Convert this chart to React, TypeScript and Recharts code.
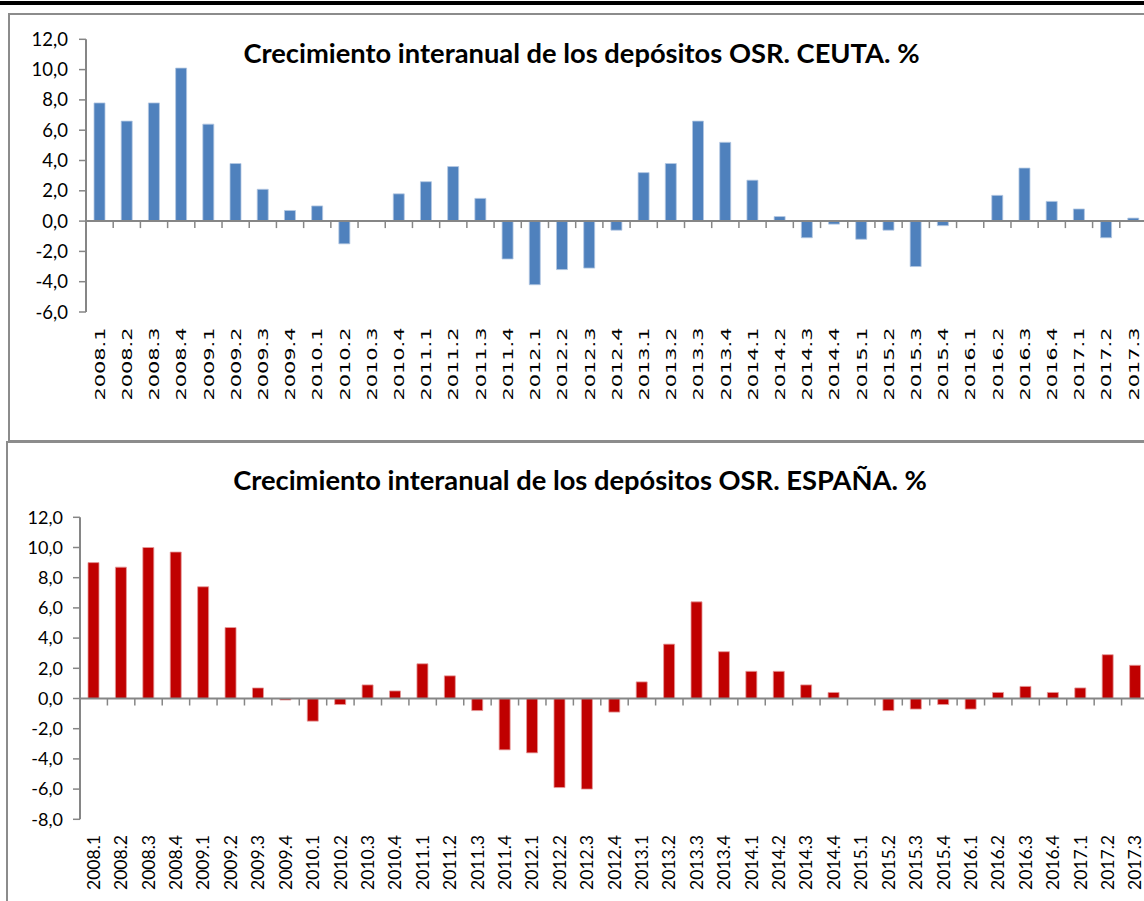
import React from "react";
import { BarChart, Bar, XAxis, YAxis, ReferenceLine } from "recharts";

// Trimestres
const periods = [
  "2008.1", "2008.2", "2008.3", "2008.4",
  "2009.1", "2009.2", "2009.3", "2009.4",
  "2010.1", "2010.2", "2010.3", "2010.4",
  "2011.1", "2011.2", "2011.3", "2011.4",
  "2012.1", "2012.2", "2012.3", "2012.4",
  "2013.1", "2013.2", "2013.3", "2013.4",
  "2014.1", "2014.2", "2014.3", "2014.4",
  "2015.1", "2015.2", "2015.3", "2015.4",
  "2016.1", "2016.2", "2016.3", "2016.4",
  "2017.1", "2017.2", "2017.3",
];

// Crecimiento interanual (%) - Ceuta
const ceuta = [
  7.8, 6.6, 7.8, 10.1,
  6.4, 3.8, 2.1, 0.7,
  1.0, -1.5, 0.0, 1.8,
  2.6, 3.6, 1.5, -2.5,
  -4.2, -3.2, -3.1, -0.6,
  3.2, 3.8, 6.6, 5.2,
  2.7, 0.3, -1.1, -0.2,
  -1.2, -0.6, -3.0, -0.3,
  0.0, 1.7, 3.5, 1.3,
  0.8, -1.1, 0.2,
];

// Crecimiento interanual (%) - España
const espana = [
  9.0, 8.7, 10.0, 9.7,
  7.4, 4.7, 0.7, -0.1,
  -1.5, -0.4, 0.9, 0.5,
  2.3, 1.5, -0.8, -3.4,
  -3.6, -5.9, -6.0, -0.9,
  1.1, 3.6, 6.4, 3.1,
  1.8, 1.8, 0.9, 0.4,
  0.0, -0.8, -0.7, -0.4,
  -0.7, 0.4, 0.8, 0.4,
  0.7, 2.9, 2.2,
];

const ceutaTicks = [-6, -4, -2, 0, 2, 4, 6, 8, 10, 12];
const espanaTicks = [-8, -6, -4, -2, 0, 2, 4, 6, 8, 10, 12];

const GRAY = "#868686";
const BORDER = "#8c8c8c";

const fmt = (v: number) => v.toFixed(1).replace(".", ",");

const ceutaData = periods.map((p, i) => ({ period: p, value: ceuta[i] }));
const espanaData = periods.map((p, i) => ({ period: p, value: espana[i] }));

// eje en el valor 0 con marcas entre categorías
const zeroAxis = (count: number) => (props: any) => {
  const { x1, x2, y1 } = props;
  const step = (x2 - x1) / count;
  const marks = periods.map((_, i) => x1 + i * step).concat([x2]);
  return (
    <g>
      <line x1={x1} x2={x2} y1={y1} y2={y1} stroke={GRAY} strokeWidth={2} />
      {marks.map((mx, i) => (
        <line key={i} x1={mx} x2={mx} y1={y1} y2={y1 + 7} stroke={GRAY} strokeWidth={1.5} />
      ))}
    </g>
  );
};

function CatTick(props: any) {
  const { x, y, payload, offset, font, size, len } = props;
  const ty = y + offset;
  return (
    <text
      x={x}
      y={ty}
      transform={`rotate(-90 ${x} ${ty})`}
      textAnchor="end"
      dy="0.36em"
      fontFamily={font}
      fontSize={size}
      fill="#000"
      textLength={len}
      lengthAdjust="spacingAndGlyphs"
    >
      {payload.value}
    </text>
  );
}

export default function App() {
  return (
    <div
      style={{
        position: "fixed",
        top: 0,
        left: 0,
        width: 1144,
        height: 901,
        overflow: "hidden",
        background: "#fff",
      }}
    >
      <div style={{ position: "absolute", left: 0, top: 1, width: 1144, height: 4, background: "#000" }} />
      <div
        style={{
          position: "absolute",
          left: 8,
          top: 13,
          width: 1300,
          height: 429,
          border: `2px solid ${BORDER}`,
          boxSizing: "border-box",
        }}
      />
      <div
        style={{
          position: "absolute",
          left: 6,
          top: 441,
          width: 1300,
          height: 500,
          border: `2px solid ${BORDER}`,
          boxSizing: "border-box",
        }}
      />

      <div style={{ position: "absolute", left: 0, top: 0 }}>
        <BarChart
          width={1147}
          height={412}
          data={ceutaData}
          margin={{ top: 39.3, right: 0, left: 0, bottom: 0 }}
          barSize={11}
        >
          <XAxis
            dataKey="period"
            interval={0}
            height={100}
            axisLine={false}
            tickLine={false}
            tickSize={0}
            tickMargin={0}
            tick={(p: any) => (
              <CatTick {...p} offset={15.5} font="DejaVu Sans" size={14.5} len={73} />
            )}
          />
          <YAxis
            width={86}
            type="number"
            domain={[-6, 12]}
            ticks={ceutaTicks}
            interval={0}
            tickFormatter={fmt}
            axisLine={{ stroke: GRAY, strokeWidth: 2 }}
            tickLine={{ stroke: GRAY, strokeWidth: 1.5 }}
            tickSize={7}
            tickMargin={11}
            tick={{ fill: "#000", fontSize: 18.5, fontFamily: "Lato" }}
          />
          <ReferenceLine y={0} shape={zeroAxis(periods.length)} />
          <Bar dataKey="value" fill="#4F81BD" stroke="#b4c8e2" strokeWidth={0.8} isAnimationActive={false} />
        </BarChart>
      </div>

      <div style={{ position: "absolute", left: 0, top: 0 }}>
        <BarChart
          width={1149}
          height={920}
          data={espanaData}
          margin={{ top: 517.3, right: 0, left: 0, bottom: 0 }}
          barSize={11}
        >
          <XAxis
            dataKey="period"
            interval={0}
            height={100.7}
            axisLine={false}
            tickLine={false}
            tickSize={0}
            tickMargin={0}
            tick={(p: any) => (
              <CatTick {...p} offset={15.7} font="Lato" size={17} len={55} />
            )}
          />
          <YAxis
            width={80}
            type="number"
            domain={[-8, 12]}
            ticks={espanaTicks}
            interval={0}
            tickFormatter={fmt}
            axisLine={{ stroke: GRAY, strokeWidth: 2 }}
            tickLine={{ stroke: GRAY, strokeWidth: 1.5 }}
            tickSize={7}
            tickMargin={10}
            tick={{ fill: "#000", fontSize: 18, fontFamily: "Lato" }}
          />
          <ReferenceLine y={0} shape={zeroAxis(periods.length)} />
          <Bar dataKey="value" fill="#C00000" stroke="#e59a9a" strokeWidth={0.8} isAnimationActive={false} />
        </BarChart>
      </div>

      <svg
        width={1144}
        height={901}
        style={{ position: "absolute", left: 0, top: 0, pointerEvents: "none" }}
      >
        <text x={581.5} y={62.7} textAnchor="middle" fontFamily="Lato" fontWeight="bold" fontSize={27.3} fill="#000">
          Crecimiento interanual de los depósitos OSR. CEUTA. %
        </text>
        <text x={580} y={490} textAnchor="middle" fontFamily="Lato" fontWeight="bold" fontSize={27.3} fill="#000">
          Crecimiento interanual de los depósitos OSR. ESPAÑA. %
        </text>
      </svg>
    </div>
  );
}
